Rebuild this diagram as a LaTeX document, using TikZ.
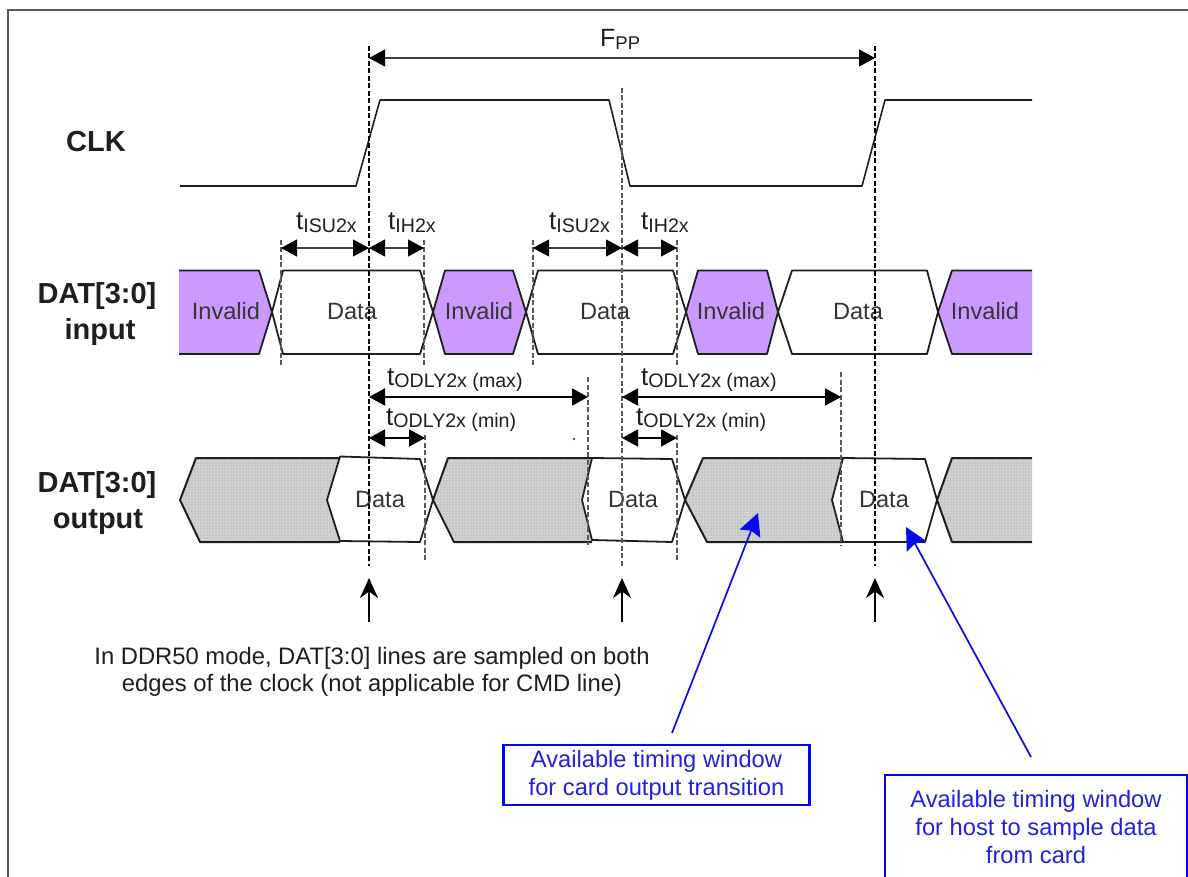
\documentclass[tikz,border=0pt]{standalone}
\usepackage{fontspec}
\setmainfont{Liberation Sans}
\usetikzlibrary{arrows.meta,patterns.meta}
\definecolor{inv}{HTML}{CC99FF}
\definecolor{dotbg}{HTML}{D2D2D2}
\definecolor{dotfg}{HTML}{9A9A9A}
\definecolor{ink}{HTML}{1E1E1E}
\definecolor{bluetxt}{HTML}{2222DD}
\definecolor{linkblue}{HTML}{0A0AF0}
\newcommand{\fs}[2]{\fontsize{#1}{#2}\selectfont}
\newcommand{\tlab}[1]{{\fs{26}{26}t}\raisebox{-2pt}{\fs{19.6}{19.6}#1}}
\tikzset{
  wave/.style={line width=1.8pt,draw=ink,line join=round},
  inval/.style={fill=inv},
  hatchfill/.style={fill=dotbg,postaction={pattern={Dots[radius=0.7pt,distance=3pt]},pattern color=dotfg}},
  guidedark/.style={line width=1.6pt,black,dash pattern=on 5pt off 2.5pt},
  guidemid/.style={line width=1.5pt,black!65,dash pattern=on 5pt off 2.5pt},
  dim/.style={line width=1.1pt,black!75,{Triangle[length=16pt,width=17pt,black]}-{Triangle[length=16pt,width=17pt,black]}},
  dimbold/.style={dim,line width=1.8pt,black},
  uparrow/.style={line width=2.4pt,black,-{Stealth[length=20pt,width=18pt]}},
  bluearrow/.style={line width=1.7pt,draw=linkblue,-{Stealth[length=22pt,width=22pt,inset=3pt,linkblue]}},
  callout/.style={draw=blue,line width=2.6pt,fill=white,text=bluetxt,align=center,font=\fs{23.7}{28},inner sep=0pt},
  wavetxt/.style={anchor=base,inner sep=0pt,text=ink!90,font=\fs{23.6}{23.6}},
  sig/.style={anchor=base,inner sep=0pt,text=ink,font=\bfseries\fs{29}{29}},
  tlabel/.style={anchor=base west,inner sep=0pt,text=ink},
  note/.style={align=center,inner sep=0pt,text=ink,font=\fs{23.8}{27}}
}
\begin{document}
\begin{tikzpicture}[x=1pt,y=-1pt]
\useasboundingbox (0,0) rectangle (1188,877);
\clip (0,0) rectangle (1188,877);
% frame
\draw[line width=1.5pt,black!65] (8,877) -- (8,10) -- (1188,10);
% CLK
\draw[line width=1.6pt,ink,line join=round] (180,186) -- (356,186) -- (380,100) -- (609,100) -- (630,186) -- (862,186) -- (885,100) -- (1032,100);
% DAT input
\fill[inval] (179,270.5) -- (259,270.5) -- (272,312) -- (259,354) -- (179,354) -- cycle;
\draw[wave] (179,270.5) -- (259,270.5) -- (272,312) -- (259,354) -- (179,354);
\draw[wave] (272,312) -- (283,270.5) -- (420,270.5) -- (433,312) -- (420,354) -- (283,354) -- cycle;
\filldraw[wave,inval] (433,312) -- (445,270.5) -- (513,270.5) -- (526,312) -- (513,354) -- (445,354) -- cycle;
\draw[wave] (526,312) -- (538,270.5) -- (673,270.5) -- (686,312) -- (673,354) -- (538,354) -- cycle;
\filldraw[wave,inval] (686,312) -- (698,270.5) -- (767,270.5) -- (778,312) -- (767,354) -- (698,354) -- cycle;
\draw[wave] (778,312) -- (792,270.5) -- (927,270.5) -- (938,312) -- (927,354) -- (792,354) -- cycle;
\fill[inval] (938,312) -- (952,270.5) -- (1032,270.5) -- (1032,354) -- (952,354) -- cycle;
\draw[wave] (1032,270.5) -- (952,270.5) -- (938,312) -- (952,354) -- (1032,354);
% DAT output
\path[hatchfill] (180,500) -- (196,458) -- (340,458) -- (327,500) -- (340,542) -- (200,542) -- cycle;
\draw[wave,line width=2pt] (340,458) -- (196,458) -- (180,500) -- (200,542) -- (340,542);
\path[hatchfill] (433,500) -- (448,458) -- (592,458) -- (582,500) -- (592,542) -- (454,542) -- cycle;
\draw[wave,line width=2pt] (592,458) -- (448,458) -- (433,500) -- (454,542) -- (592,542);
\path[hatchfill] (685,500) -- (703,458) -- (843,458) -- (832,500) -- (843,542) -- (707,542) -- cycle;
\draw[wave,line width=2pt] (843,458) -- (703,458) -- (685,500) -- (707,542) -- (843,542);
\path[hatchfill] (937,500) -- (952,458) -- (1032,458) -- (1032,542) -- (952,542) -- cycle;
\draw[wave,line width=2pt] (1032,458) -- (952,458) -- (937,500) -- (952,542) -- (1032,542);
\draw[wave] (327,500) -- (340,456.5) -- (420,459) -- (433,500) -- (420,542) -- (340,541) -- cycle;
\draw[wave] (582,500) -- (592,458) -- (672,459) -- (685,500) -- (672,542) -- (592,540) -- cycle;
\draw[wave] (832,500) -- (843,458) -- (925,459) -- (937,500) -- (925,542) -- (843,542) -- cycle;
% wave texts
\node[wavetxt] (i1) at (226,319) {Invalid};
\node[wavetxt] (d1) at (352,319) {Data};
\node[wavetxt] (i2) at (479,319) {Invalid};
\node[wavetxt] (d2) at (605,319) {Data};
\node[wavetxt] (i3) at (731,319) {Invalid};
\node[wavetxt] (d3) at (858,319) {Data};
\node[wavetxt] (i4) at (985,319) {Invalid};
\node[wavetxt] (o1) at (380,507) {Data};
\node[wavetxt] (o2) at (633,507) {Data};
\node[wavetxt] (o3) at (884,507) {Data};
% signal names
\node[sig] (clk) at (96,152) {CLK};
\node[sig] (dati) at (97,303) {DAT[3:0]};
\node[sig] (input) at (100,339) {input};
\node[sig] (dato) at (97,492) {DAT[3:0]};
\node[sig] (output) at (98,528) {output};
% guide ends
\coordinate (a1) at (369,46);  \coordinate (a2) at (369,566);
\coordinate (b1) at (622,88);  \coordinate (b2) at (622,566);
\coordinate (c1) at (875,46);  \coordinate (c2) at (875,566);
\coordinate (e1) at (281,240); \coordinate (e2) at (281,366);
\coordinate (f1) at (424,240); \coordinate (f2) at (424,366);
\coordinate (g1) at (533,240); \coordinate (g2) at (533,366);
\coordinate (h1) at (677,240); \coordinate (h2) at (677,366);
\coordinate (j1) at (425,435); \coordinate (j2) at (425,560);
\coordinate (k1) at (677,435); \coordinate (k2) at (677,560);
\coordinate (m1) at (588,377); \coordinate (m2) at (588,545);
\coordinate (n1) at (841,372); \coordinate (n2) at (841,545);
\draw[guidedark] (a1) -- (a2);
\draw[guidemid] (b1) -- (b2);
\draw[guidedark] (c1) -- (c2);
\foreach \u/\v in {e1/e2,f1/f2,g1/g2,h1/h2,j1/j2,k1/k2,m1/m2,n1/n2}
  \draw[guidemid] (\u) -- (\v);
% dimension arrows
\path (a1 |- 0,58) coordinate (fa) (c1 |- 0,58) coordinate (fb);
\draw[dim] (fa) -- (fb);
\path (e1 |- 0,248) coordinate (p1) (a1 |- 0,248) coordinate (p2) (f1 |- 0,248) coordinate (p3);
\draw[dim] (p1) -- (p2);
\draw[dim] (p2) -- (p3);
\path (g1 |- 0,248) coordinate (q1) (b1 |- 0,248) coordinate (q2) (h1 |- 0,248) coordinate (q3);
\draw[dim] (q1) -- (q2);
\draw[dim] (q2) -- (q3);
\path (a1 |- 0,397) coordinate (r1) (m1 |- 0,397) coordinate (r2) (b1 |- 0,397) coordinate (r3) (n1 |- 0,397) coordinate (r4);
\draw[dimbold] (r1) -- (r2);
\draw[dimbold] (r3) -- (r4);
\path (a1 |- 0,438) coordinate (s1) (j1 |- 0,438) coordinate (s2) (b1 |- 0,438) coordinate (s3) (k1 |- 0,438) coordinate (s4);
\draw[dimbold] (s1) -- (s2);
\draw[dimbold] (s3) -- (s4);
% timing labels
\node[tlabel] (fpp) at (600,47) {{\fs{25}{25}F}\raisebox{-3pt}{\fs{18.5}{18.5}PP}};
\node[tlabel] (l1) at (296,230) {\tlab{ISU2x}};
\node[tlabel] (l2) at (388,230) {\tlab{IH2x}};
\node[tlabel] (l3) at (549,230) {\tlab{ISU2x}};
\node[tlabel] (l4) at (641,230) {\tlab{IH2x}};
\node[tlabel] (l5) at (387,385) {\tlab{ODLY2x (max)}};
\node[tlabel] (l6) at (641,385) {\tlab{ODLY2x (max)}};
\node[tlabel] (l7) at (386,425) {\tlab{ODLY2x (min)}};
\node[tlabel] (l8) at (636,425) {\tlab{ODLY2x (min)}};
% stray mark
\fill[black!70] (574,439) circle (1.3);
% sampling arrows
\coordinate (u1) at (369,622); \coordinate (u2) at (369,578);
\coordinate (v1) at (622,622); \coordinate (v2) at (622,578);
\coordinate (w1) at (875,622); \coordinate (w2) at (875,578);
\draw[uparrow] (u1) -- (u2);
\draw[uparrow] (v1) -- (v2);
\draw[uparrow] (w1) -- (w2);
\node[note] (note) at (372,672) {In DDR50 mode, DAT[3:0] lines are sampled on both\\edges of the clock (not applicable for CMD line)};
% callouts
\node[callout,minimum width=306pt,minimum height=60pt] (box1) at (656.5,775) {Available timing window\\for card output transition};
\node[callout,minimum width=302pt,minimum height=104pt] (box2) at (1036,827) {Available timing window\\for host to sample data\\from card};
\coordinate (t1) at (672,733); \coordinate (h1x) at (758,513);
\coordinate (t2) at (1031,757); \coordinate (h2x) at (906,527);
\draw[bluearrow] (t1) -- (h1x);
\draw[bluearrow] (t2) -- (h2x);
\end{tikzpicture}
\end{document}
